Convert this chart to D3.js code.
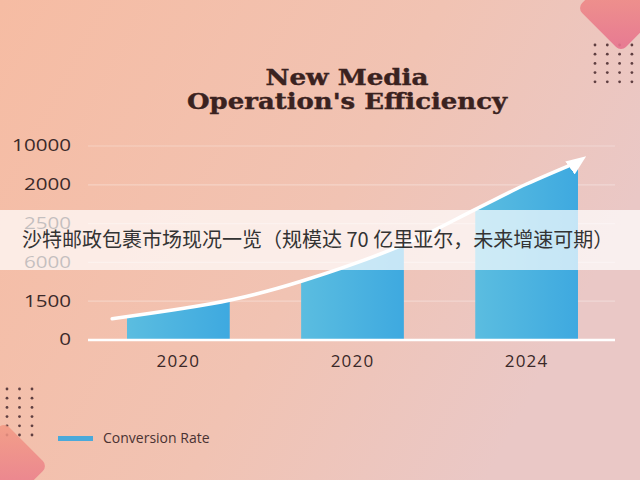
<!DOCTYPE html>
<html>
<head>
<meta charset="utf-8">
<script src="https://cdn.jsdelivr.net/npm/d3@7"></script>
<style>
  body { margin: 0; background: #f3c2ae; }
  svg { display: block; }
</style>
</head>
<body>
<svg id="mySvg"></svg>
<script>
const width = 640;
const height = 480;

// chart data (values are in axis-step units, the axis labels are not linear)
const categories = ["2020", "2020", "2024"];
const yTickLabels = ["0", "1500", "6000", "2500", "2000", "10000"];
const curvePos = [-0.38, 0.3, 0.71, 1.3, 1.72, 2.0, 2.3];
const curveValues = [0.55, 1.03, 1.52, 2.47, 3.4, 4.02, 4.6];
const titleLines = ["New Media", "Operation's Efficiency"];
const legendLabel = "Conversion Rate";
const bannerText = "沙特邮政包裹市场现况一览（规模达 70 亿里亚尔，未来增速可期）";

const svg = d3.select("#mySvg").attr("width", width).attr("height", height);
const defs = svg.append("defs");

// background
const bg = defs.append("linearGradient").attr("id", "bg")
  .attr("x1", "0").attr("y1", "0").attr("x2", "1").attr("y2", "0.4");
bg.append("stop").attr("offset", "0%").attr("stop-color", "#f6bca3");
bg.append("stop").attr("offset", "60%").attr("stop-color", "#f1c3b3");
bg.append("stop").attr("offset", "100%").attr("stop-color", "#eac8c6");
svg.append("rect").attr("width", width).attr("height", height).attr("fill", "url(#bg)");

const pinkGrad = defs.append("linearGradient").attr("id", "pink")
  .attr("x1", "0").attr("y1", "0").attr("x2", "1").attr("y2", "1");
pinkGrad.append("stop").attr("offset", "0%").attr("stop-color", "#f39a82");
pinkGrad.append("stop").attr("offset", "100%").attr("stop-color", "#e6708e");

// decorations
function dots(x0, y0, cols, rows, dx, dy) {
  for (let c = 0; c < cols; c++) {
    for (let r = 0; r < rows; r++) {
      svg.append("circle").attr("cx", x0 + c * dx).attr("cy", y0 + r * dy)
        .attr("r", 1.4).attr("fill", "#5e3e40");
    }
  }
}
dots(595, 45, 4, 5, 12.3, 9.2);
dots(7, 389, 3, 6, 12.5, 9.2);

svg.append("rect").attr("x", -31).attr("y", -31).attr("width", 62).attr("height", 62)
  .attr("rx", 7).attr("fill", "url(#pink)").attr("opacity", 0.9)
  .attr("transform", "translate(621,8) rotate(45)");
svg.append("rect").attr("x", -31).attr("y", -31).attr("width", 62).attr("height", 62)
  .attr("rx", 7).attr("fill", "url(#pink)").attr("opacity", 0.85)
  .attr("transform", "translate(4,466) rotate(45)");

// scales
const x = d3.scaleBand()
  .domain(d3.range(categories.length))
  .range([88, 617])
  .paddingInner(0.41)
  .paddingOuter(0.224);
const bw = x.bandwidth();
const xc = d3.scaleLinear()
  .domain([0, categories.length - 1])
  .range([x(0) + bw / 2, x(categories.length - 1) + bw / 2]);
const y = d3.scaleLinear().domain([0, yTickLabels.length - 1]).range([340, 146]);

// gridlines
svg.append("g").selectAll("line")
  .data(d3.range(1, yTickLabels.length))
  .enter().append("line")
  .attr("x1", 88).attr("x2", 615)
  .attr("y1", (d) => y(d)).attr("y2", (d) => y(d))
  .attr("stroke", "#fff").attr("stroke-opacity", 0.3).attr("stroke-width", 1.2);

// y axis (labels drawn a bit wide, like the original)
const yAxis = svg.append("g")
  .attr("transform", "translate(71,0)")
  .call(d3.axisLeft(y).tickValues(d3.range(yTickLabels.length))
    .tickFormat((i) => yTickLabels[i]).tickSize(0).tickPadding(0));
yAxis.select(".domain").remove();
yAxis.selectAll("text")
  .attr("font-family", "'Open Sans', sans-serif").attr("font-size", 15.5)
  .attr("font-weight", 500).attr("fill", "#3b2a2a")
  .attr("transform", "scale(1.33,1)");

// bars: area under the growth curve, one clip per category
const pts = curvePos.map((p, i) => [xc(p), y(curveValues[i])]);
const area = d3.area().x((d) => d[0]).y0(y(0)).y1((d) => d[1]).curve(d3.curveCatmullRom);
const line = d3.line().x((d) => d[0]).y((d) => d[1]).curve(d3.curveCatmullRom);

categories.forEach((c, i) => {
  defs.append("clipPath").attr("id", "clip" + i)
    .append("rect").attr("x", x(i)).attr("y", 0).attr("width", bw).attr("height", y(0));
  const g = defs.append("linearGradient").attr("id", "bar" + i)
    .attr("gradientUnits", "userSpaceOnUse")
    .attr("x1", x(i)).attr("x2", x(i) + bw).attr("y1", 0).attr("y2", 0);
  g.append("stop").attr("offset", "0%").attr("stop-color", "#5bbde0");
  g.append("stop").attr("offset", "100%").attr("stop-color", "#3ea9e0");
  svg.append("path").attr("d", area(pts))
    .attr("fill", "url(#bar" + i + ")")
    .attr("clip-path", "url(#clip" + i + ")");
});

// baseline
svg.append("line").attr("x1", 88).attr("x2", 615).attr("y1", y(0)).attr("y2", y(0))
  .attr("stroke", "#fff").attr("stroke-width", 2.5);

// x axis
const xAxis = svg.append("g")
  .attr("transform", `translate(0,${y(0)})`)
  .call(d3.axisBottom(x).tickFormat((i) => categories[i]).tickSize(0).tickPadding(15));
xAxis.select(".domain").remove();
xAxis.selectAll("text")
  .attr("font-family", "'Open Sans', sans-serif").attr("font-size", 17)
  .attr("font-weight", 500).attr("letter-spacing", 1.2)
  .attr("fill", "#3a2828");

// growth arrow
defs.append("marker").attr("id", "arrow")
  .attr("viewBox", "0 0 20 16").attr("refX", 11).attr("refY", 8)
  .attr("markerWidth", 20).attr("markerHeight", 16)
  .attr("markerUnits", "userSpaceOnUse").attr("orient", "-36")
  .append("path").attr("d", "M0,0 L20,8 L0,16 Z").attr("fill", "#fff");

svg.append("path").attr("d", line(pts))
  .attr("fill", "none").attr("stroke", "#fff").attr("stroke-width", 3.5)
  .attr("stroke-linecap", "round")
  .attr("marker-end", "url(#arrow)");

// title
const titleWidths = [163, 320];
svg.append("g").selectAll("text")
  .data(titleLines)
  .enter().append("text")
  .attr("x", 347).attr("y", (d, i) => 85 + i * 24)
  .attr("text-anchor", "middle")
  .attr("textLength", (d, i) => titleWidths[i])
  .attr("lengthAdjust", "spacingAndGlyphs")
  .attr("font-family", "'DejaVu Serif', serif").attr("font-weight", "bold")
  .attr("font-size", 21.5).attr("fill", "#3a2220")
  .attr("stroke", "#3a2220").attr("stroke-width", 0.4)
  .text((d) => d);

// legend
svg.append("rect").attr("x", 58).attr("y", 436).attr("width", 35).attr("height", 5)
  .attr("fill", "#4aa9da");
svg.append("text").attr("x", 103).attr("y", 443)
  .attr("font-family", "'Open Sans', sans-serif").attr("font-size", 14)
  .attr("fill", "#4a3232").text(legendLabel);

// banner
svg.append("rect").attr("x", 0).attr("y", 210).attr("width", width).attr("height", 60)
  .attr("fill", "#fff").attr("opacity", 0.7);
svg.append("text").attr("x", 22).attr("y", 247)
  .attr("font-family", "'Noto Sans CJK SC', sans-serif").attr("font-size", 20)
  .attr("fill", "#333").text(bannerText);
</script>
</body>
</html>
